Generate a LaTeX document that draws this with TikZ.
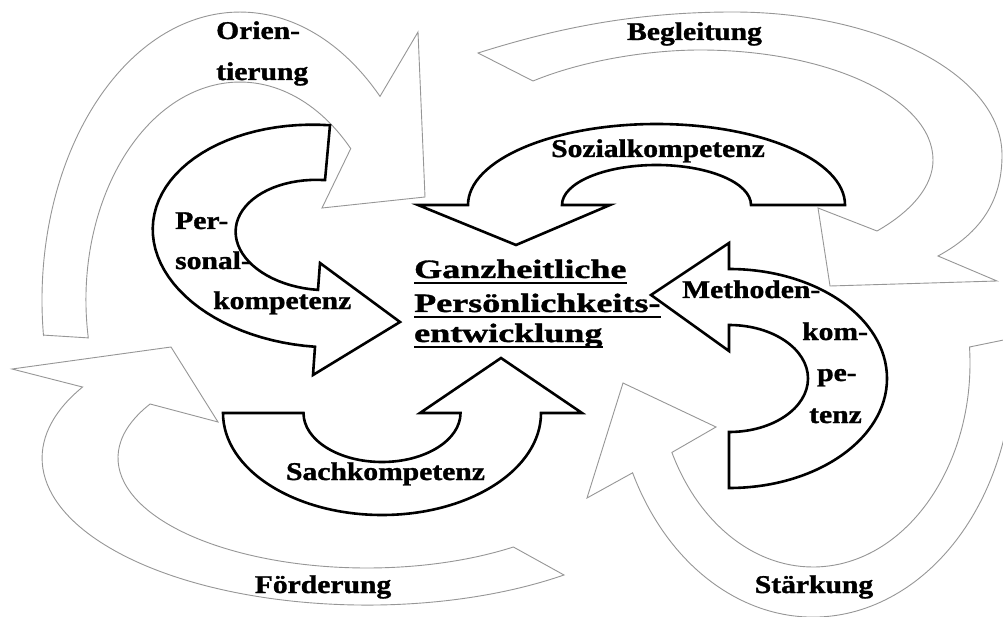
\documentclass[tikz,border=0pt]{standalone}
\usepackage{fontspec}
\setmainfont{Liberation Serif}[BoldFeatures={FakeBold=1.2}]
\usepackage{graphicx}
\definecolor{arrowgray}{RGB}{150,150,150}
\newcommand{\lblstretch}[1]{\scalebox{1.16}[1]{#1}}
\newcommand{\ttlstretch}[1]{\scalebox{1.36}[1]{#1}}
\tikzset{
  grayarrow/.style={draw=arrowgray, line width=0.9pt, fill=white, line join=miter},
  blackarrow/.style={draw=black, line width=2.6pt, fill=white, line join=miter},
  lbl/.style={font=\bfseries\fontsize{25.5}{30}\selectfont, inner sep=0pt, anchor=base},
  ttl/.style={font=\bfseries\fontsize{26.5}{32}\selectfont, inner sep=0pt, anchor=base west},
  uline/.style={line width=2.6pt}
}
\begin{document}
\begin{tikzpicture}[x=1pt,y=-1pt]
\useasboundingbox (0,0) rectangle (1003,617);
\begin{scope}
\clip (0,0) rectangle (1003,617);
% Orientierung
\draw[grayarrow] (43.5,335.1) -- (88.3,337.9) arc[start angle=190, end angle=44, x radius=154pt, y radius=218pt] -- (322,208) -- (425,197) -- (418,32) -- (380,96.4) arc[start angle=45, end angle=187, x radius=198pt, y radius=288pt] -- cycle;
% Begleitung
\draw[grayarrow] (478,53) .. controls (554,29) and (633,12) .. (733,12) .. controls (881,12) and (1002,76) .. (1002,155) .. controls (1002,193) and (988,229) .. (938,256) -- (997,281) -- (830,286) -- (818,208) -- (877,231) .. controls (912,211) and (933,186) .. (933,160) .. controls (933,99) and (829,50) .. (700,50) .. controls (650,50) and (584,60) .. (533,81) -- cycle;
% Staerkung
\draw[grayarrow] (969.5,347) arc[start angle=4.5, end angle=-154, x radius=157pt, y radius=204pt] -- (716,427) -- (623,383) -- (587,498) -- (632.6,472.8) arc[start angle=-154.4, end angle=5.6, x radius=200pt, y radius=254pt] -- cycle;
% Foerderung
\draw[grayarrow] (564,575) arc[start angle=307.3, end angle=151.1, x radius=325pt, y radius=147pt] -- (12,369) -- (171,347) -- (218,422) -- (150.1,404) arc[start angle=150.6, end angle=306, x radius=249pt, y radius=110pt] -- cycle;
\end{scope}
% Sozialkompetenz
\draw[blackarrow] (468,205) arc[start angle=180,end angle=0,x radius=188.5pt,y radius=81pt] -- (751,205) arc[start angle=0,end angle=180,x radius=94.5pt,y radius=40pt] -- (610,205) -- (516,245) -- (418,205) -- cycle;
% Methodenkompetenz
\draw[blackarrow] (729,269) arc[start angle=90,end angle=-90,x radius=158pt,y radius=109.5pt] -- (729,432) arc[start angle=-90,end angle=90,x radius=79pt,y radius=53.5pt] -- (729,351) -- (651,295) -- (729,243) -- cycle;
% Sachkompetenz
\draw[blackarrow] (223,413) -- (303.5,413) arc[start angle=180,end angle=360,x radius=78.5pt,y radius=49pt] -- (420,413) -- (501,358) -- (582,413) -- (541,413) arc[start angle=0,end angle=-180,x radius=159pt,y radius=102pt] -- cycle;
% Personalkompetenz
\draw[blackarrow] plot[domain=90:270, samples=50, variable=\t] ({322.5+170*cos(\t)*0.9977+111*sin(\t)*0.0676}, {236+170*cos(\t)*0.0676-111*sin(\t)*0.9977}) -- (313,375) -- (400,322) -- (320,263) -- plot[domain=90:270, samples=40, variable=\s] ({321.5+86*cos(\s)*0.998-55*sin(\s)*0.064}, {235+86*cos(\s)*0.064+55*sin(\s)*0.998}) -- cycle;
% labels
\node[lbl, anchor=base west] (orien) at (216,39) {\lblstretch{Orien-}};
\node[lbl, anchor=base west] (tierung) at (216,80) {\lblstretch{tierung}};
\node[lbl] (begl) at (694.5,40) {\lblstretch{Begleitung}};
\node[lbl] (sozial) at (658,157) {\lblstretch{Sozialkompetenz}};
\node[lbl, anchor=base west] (per) at (175,229) {\lblstretch{Per-}};
\node[lbl, anchor=base west] (sonal) at (175,269) {\lblstretch{sonal-}};
\node[lbl, anchor=base west] (kompA) at (213,309) {\lblstretch{kompetenz}};
\node[lbl, anchor=base west] (meth) at (682,298) {\lblstretch{Methoden-}};
\node[lbl, anchor=base west] (kom) at (802,340) {\lblstretch{kom-}};
\node[lbl, anchor=base west] (pe) at (817,381) {\lblstretch{pe-}};
\node[lbl, anchor=base west] (tenz) at (809,423) {\lblstretch{tenz}};
\node[lbl] (sach) at (385.5,480) {\lblstretch{Sachkompetenz}};
\node[lbl] (foerd) at (323,593) {\lblstretch{Förderung}};
\node[lbl] (staerk) at (814,593) {\lblstretch{Stärkung}};
% title
\node[ttl] (g1) at (414,278) {\ttlstretch{Ganzheitliche}};
\node[ttl] (g2) at (414,312) {\ttlstretch{Persönlichkeits-}};
\node[ttl] (g3) at (414,342) {\ttlstretch{entwicklung}};
\draw[uline] ([yshift=-5pt]g1.base west) -- ([yshift=-5pt]g1.base east);
\draw[uline] ([yshift=-5pt]g2.base west) -- ([yshift=-5pt]g2.base east);
\draw[uline] ([yshift=-5pt]g3.base west) -- ([yshift=-5pt]g3.base east);
\end{tikzpicture}
\end{document}
